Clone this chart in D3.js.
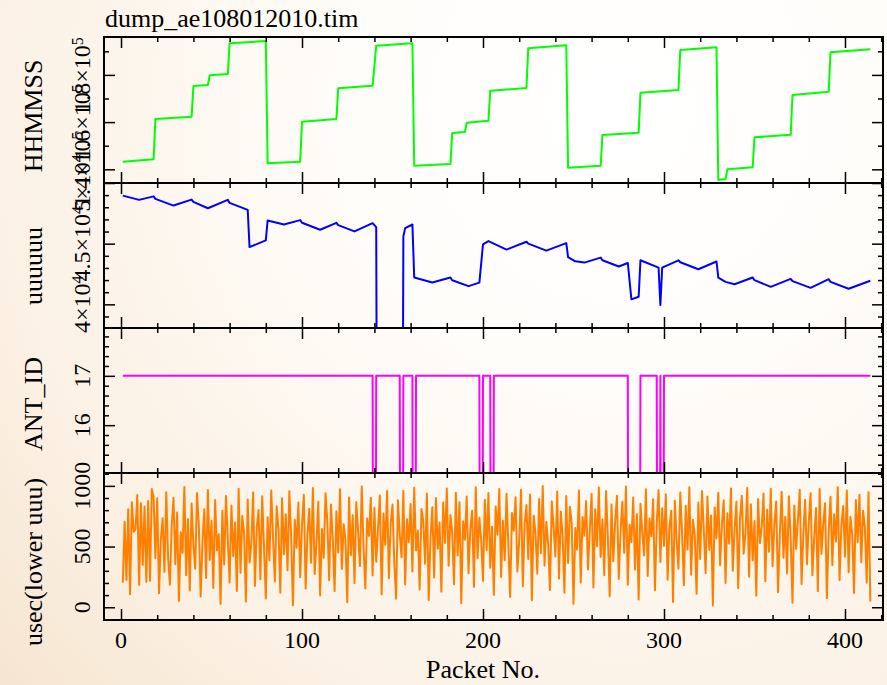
<!DOCTYPE html>
<html>
<head>
<meta charset="utf-8">
<script src="https://cdn.jsdelivr.net/npm/d3@7"></script>
<style>
  html, body { margin: 0; padding: 0; background: #fff; }
  svg text { font-family: "Liberation Serif", "Times New Roman", Times, serif; fill: #000; }
</style>
</head>
<body>
<svg id="chart" width="887" height="685"></svg>
<script>
// ---- data -------------------------------------------------------------
const fileTitle = "dump_ae108012010.tim";
const xTitle = "Packet No.";

// HHMMSS time stamp (breakpoints of the stepped trace)
const hhmmssPacket = [1, 18, 19, 39, 40, 48, 49, 59, 60, 80, 81, 99, 100, 119, 120, 139, 141, 161, 162, 182, 183, 190, 191, 203, 204, 224, 225, 246, 247, 265, 266, 286, 287, 308, 309, 329, 330, 334, 335, 349, 350, 370, 371, 391, 392, 414];
const hhmmssValue = [143220, 144240, 161310, 162290, 175290, 175720, 179830, 180380, 193390, 194360, 142540, 143220, 160170, 161310, 174320, 175420, 192370, 193390, 141530, 142250, 155380, 155800, 159740, 160590, 173300, 174450, 191270, 192540, 140680, 141530, 154530, 155510, 172460, 173600, 190550, 191690, 135470, 135890, 140000, 140850, 153560, 154660, 171480, 172880, 189570, 190840];

// uuuuuu counter
const uuuuuuPacket = [1, 10, 18, 19, 29, 39, 40, 48, 59, 60, 70, 71, 80, 81, 90, 99, 100, 110, 119, 120, 129, 139, 141, 142, 155, 156, 157, 161, 162, 172, 182, 183, 192, 198, 200, 203, 213, 224, 225, 235, 246, 247, 251, 256, 265, 266, 275, 280, 282, 286, 287, 297, 298, 299, 308, 309, 319, 329, 330, 334, 339, 349, 350, 359, 370, 371, 381, 391, 392, 402, 414];
const uuuuuuValue = [48960, 48610, 48900, 48690, 48140, 48630, 48440, 47920, 48610, 48360, 47790, 44720, 45270, 46910, 46580, 46940, 46720, 46150, 46720, 46530, 46010, 46690, 46360, 0, 0, 45600, 46280, 46580, 42210, 41800, 42210, 41990, 41500, 41790, 44950, 45210, 44510, 45160, 45000, 44430, 45050, 43900, 43550, 43440, 43850, 43630, 43120, 43410, 40410, 40620, 43630, 43030, 39940, 43030, 43630, 43470, 42890, 43530, 42210, 41850, 41660, 42210, 41990, 41440, 42100, 41910, 41360, 42070, 41850, 41280, 41940];

// ANT_ID
const antPacket = [1, 139, 140, 141, 154, 155, 156, 161, 162, 163, 198, 199, 200, 204, 205, 206, 280, 281, 286, 287, 296, 297, 298, 299, 300, 414];
const antValue = [17, 17, 0, 17, 17, 0, 17, 17, 0, 17, 17, 0, 17, 17, 0, 17, 17, 0, 0, 17, 17, 0, 17, 0, 17, 17];

// usec (lower uuu), one value per packet starting at packet 1
const usecValue = [
  203, 705, 225, 807, 107, 865, 623, 640, 925, 184, 857, 348, 829, 211, 876, 219, 975, 911, 404, 898,
  115, 560, 733, 290, 948, 412, 186, 671, 902, 355, 781, 52, 618, 447, 990, 263, 725, 138, 854, 509,
  317, 942, 676, 88, 533, 807, 241, 965, 390, 712, 159, 883, 468, 601, 27, 794, 352, 917, 566, 203,
  839, 421, 698, 134, 976, 285, 752, 610, 48, 887, 369, 523, 945, 176, 658, 802, 231, 914, 497, 73,
  741, 385, 962, 569, 212, 833, 646, 119, 898, 437, 766, 305, 955, 582, 17, 720, 491, 862, 248, 683,
  927, 154, 598, 811, 366, 983, 274, 530, 869, 97, 645, 408, 939, 701, 223, 846, 561, 132, 790, 452,
  973, 316, 684, 557, 41, 905, 429, 758, 198, 867, 620, 339, 995, 487, 155, 731, 588, 903, 262, 819,
  375, 648, 921, 105, 772, 514, 957, 239, 690, 846, 363, 71, 882, 599, 411, 960, 187, 726, 538, 851,
  294, 985, 467, 632, 146, 809, 712, 358, 937, 60, 575, 823, 246, 901, 483, 698, 127, 864, 529, 978,
  342, 761, 613, 189, 944, 427, 865, 33, 708, 556, 912, 281, 647, 795, 168, 989, 403, 738, 552, 216,
  886, 470, 941, 325, 663, 102, 829, 597, 974, 250, 713, 388, 935, 516, 84, 777, 631, 907, 294, 548,
  968, 173, 686, 842, 397, 929, 58, 754, 612, 277, 891, 445, 999, 343, 705, 521, 142, 873, 666, 419,
  953, 237, 789, 580, 119, 916, 364, 827, 695, 29, 652, 476, 961, 203, 744, 589, 876, 311, 638, 934,
  162, 807, 502, 986, 415, 723, 264, 958, 571, 91, 846, 379, 702, 918, 233, 624, 870, 448, 995, 186,
  679, 537, 904, 312, 768, 64, 853, 619, 427, 972, 258, 731, 584, 889, 141, 697, 963, 372, 815, 506,
  931, 226, 660, 795, 44, 878, 541, 317, 946, 603, 182, 837, 475, 989, 268, 721, 590, 112, 863, 398,
  957, 638, 281, 912, 473, 756, 15, 821, 567, 944, 346, 689, 882, 199, 775, 524, 978, 301, 642, 869,
  156, 733, 918, 441, 607, 983, 252, 848, 386, 710, 96, 892, 529, 664, 937, 215, 803, 458, 976, 337,
  685, 871, 124, 597, 952, 408, 746, 279, 915, 563, 38, 839, 480, 724, 968, 191, 612, 886, 354, 701,
  940, 263, 578, 817, 133, 974, 439, 692, 857, 75, 628, 910, 347, 766, 541, 989, 222, 673, 834, 417,
  961, 289, 745, 602, 118, 883, 536, 927, 371, 794, 655, 202, 948, 47
];
const usecPacket = usecValue.map((_, i) => i + 1);

// tick labels
const xTickValues = [0, 100, 200, 300, 400];
const hhmmssTicks = [140000, 160000, 180000];
const hhmmssTickText = [["1.4", "5"], ["1.6", "5"], ["1.8", "5"]];
const uuuuuuTicks = [40000, 45000, 50000];
const uuuuuuTickText = [["4", "4"], ["4.5", "4"], ["5", "4"]];
const antTicks = [16, 17];
const antTickText = [["16"], ["17"]];
const usecTicks = [0, 500, 1000];
const usecTickText = [["0"], ["500"], ["1000"]];

// ---- layout -------------------------------------------------------------
const W = 887, H = 685;
const plotLeft = 104, plotRight = 883;
const majorLen = 11, minorLen = 5;

const svg = d3.select("#chart");

// soft paper-like background
const defs = svg.append("defs");
const grad = defs.append("radialGradient")
  .attr("id", "bg").attr("gradientUnits", "userSpaceOnUse")
  .attr("cx", 620).attr("cy", 110).attr("r", 900);
grad.append("stop").attr("offset", 0).attr("stop-color", "#ffffff");
grad.append("stop").attr("offset", 0.3).attr("stop-color", "#fffdfa");
grad.append("stop").attr("offset", 0.7).attr("stop-color", "#fbf1e4");
grad.append("stop").attr("offset", 1).attr("stop-color", "#f5e2cb");
svg.append("rect").attr("width", W).attr("height", H).attr("fill", "url(#bg)");

const x = d3.scaleLinear().domain([-9.4, 421]).range([plotLeft, plotRight]);

const panels = [
  { top: 37, bottom: 183, domain: [134200, 196060], packets: hhmmssPacket, values: hhmmssValue,
    color: "#00ff00", title: "HHMMSS", titleY: 116,
    major: hhmmssTicks, minorStep: 10000, labels: hhmmssTickText },
  { top: 183, bottom: 328, domain: [38050, 50000], packets: uuuuuuPacket, values: uuuuuuValue,
    color: "#0000ff", title: "uuuuuu", titleY: 266,
    major: uuuuuuTicks, minorStep: 1000, labels: uuuuuuTickText },
  { top: 328, bottom: 473, domain: [15.03, 17.97], packets: antPacket, values: antValue,
    color: "#ff00ff", title: "ANT_ID", titleY: 404,
    major: antTicks, minorStep: 0.2, labels: antTickText },
  { top: 473, bottom: 620, domain: [-105, 1106], packets: usecPacket, values: usecValue,
    color: "#ff8000", title: "usec(lower uuu)", titleY: 562,
    major: usecTicks, minorStep: 100, labels: usecTickText }
];

const xMajor = xTickValues;
const xMinor = d3.range(0, 421, 20).filter(v => v % 100 !== 0);

function drawTicks(g, axis, values, len, transform) {
  g.append("g")
    .attr("transform", transform)
    .call(axis.tickValues(values).tickSize(-len).tickSizeOuter(0).tickFormat(""))
    .call(a => a.select(".domain").remove())
    .selectAll("line").attr("stroke", "#000").attr("stroke-width", 1.5);
}

panels.forEach((p, i) => {
  const y = d3.scaleLinear().domain(p.domain).range([p.bottom, p.top]);
  const g = svg.append("g");

  defs.append("clipPath").attr("id", "clip" + i)
    .append("rect")
    .attr("x", plotLeft).attr("y", p.top)
    .attr("width", plotRight - plotLeft).attr("height", p.bottom - p.top);

  const pts = p.packets.map((k, j) => [k, p.values[j]]);
  const line = d3.line().x(d => x(d[0])).y(d => y(d[1]));
  g.append("path")
    .datum(pts)
    .attr("clip-path", `url(#clip${i})`)
    .attr("d", line)
    .attr("fill", "none")
    .attr("stroke", p.color)
    .attr("stroke-width", 2)
    .attr("stroke-linejoin", "round");

  // y ticks (inside on both sides)
  const [lo, hi] = p.domain;
  const yMinor = d3.range(Math.ceil(lo / p.minorStep - 1e-9), Math.floor(hi / p.minorStep + 1e-9) + 1)
    .map(k => +(k * p.minorStep).toFixed(6))
    .filter(v => !p.major.some(m => Math.abs(m - v) < 1e-9));
  const yMajor = p.major.filter(v => v >= lo && v <= hi);
  drawTicks(g, d3.axisLeft(y), yMinor, minorLen, `translate(${plotLeft},0)`);
  drawTicks(g, d3.axisLeft(y), yMajor, majorLen, `translate(${plotLeft},0)`);
  drawTicks(g, d3.axisRight(y), yMinor, minorLen, `translate(${plotRight},0)`);
  drawTicks(g, d3.axisRight(y), yMajor, majorLen, `translate(${plotRight},0)`);

  // x ticks on top and bottom edges
  drawTicks(g, d3.axisTop(x), xMinor, minorLen, `translate(0,${p.top})`);
  drawTicks(g, d3.axisTop(x), xMajor, majorLen, `translate(0,${p.top})`);
  drawTicks(g, d3.axisBottom(x), xMinor, minorLen, `translate(0,${p.bottom})`);
  drawTicks(g, d3.axisBottom(x), xMajor, majorLen, `translate(0,${p.bottom})`);

  // frame
  g.append("rect")
    .attr("x", plotLeft).attr("y", p.top)
    .attr("width", plotRight - plotLeft).attr("height", p.bottom - p.top)
    .attr("fill", "none").attr("stroke", "#000").attr("stroke-width", 2);

  // y tick labels (rotated)
  p.major.forEach((v, j) => {
    const t = svg.append("text")
      .attr("transform", `translate(90,${y(v)}) rotate(-90)`)
      .attr("text-anchor", "middle")
      .attr("font-size", 24);
    const parts = p.labels[j];
    if (parts.length === 2) {
      t.append("tspan").text(parts[0] + "\u00d710");
      t.append("tspan").attr("dy", "-0.45em").attr("font-size", 16).text(parts[1]);
    } else {
      t.text(parts[0]);
    }
  });

  // y axis title
  svg.append("text")
    .attr("transform", `translate(42,${p.titleY}) rotate(-90)`)
    .attr("text-anchor", "middle")
    .attr("font-size", 26)
    .text(p.title);
});

// x tick labels
svg.append("g").selectAll("text")
  .data(xTickValues)
  .join("text")
  .attr("x", d => x(d))
  .attr("y", 648)
  .attr("text-anchor", "middle")
  .attr("font-size", 24)
  .text(d => d);

svg.append("text")
  .attr("x", 483).attr("y", 678)
  .attr("text-anchor", "middle")
  .attr("font-size", 26)
  .text(xTitle);

svg.append("text")
  .attr("x", 105).attr("y", 27)
  .attr("font-size", 26)
  .text(fileTitle);
</script>
</body>
</html>
